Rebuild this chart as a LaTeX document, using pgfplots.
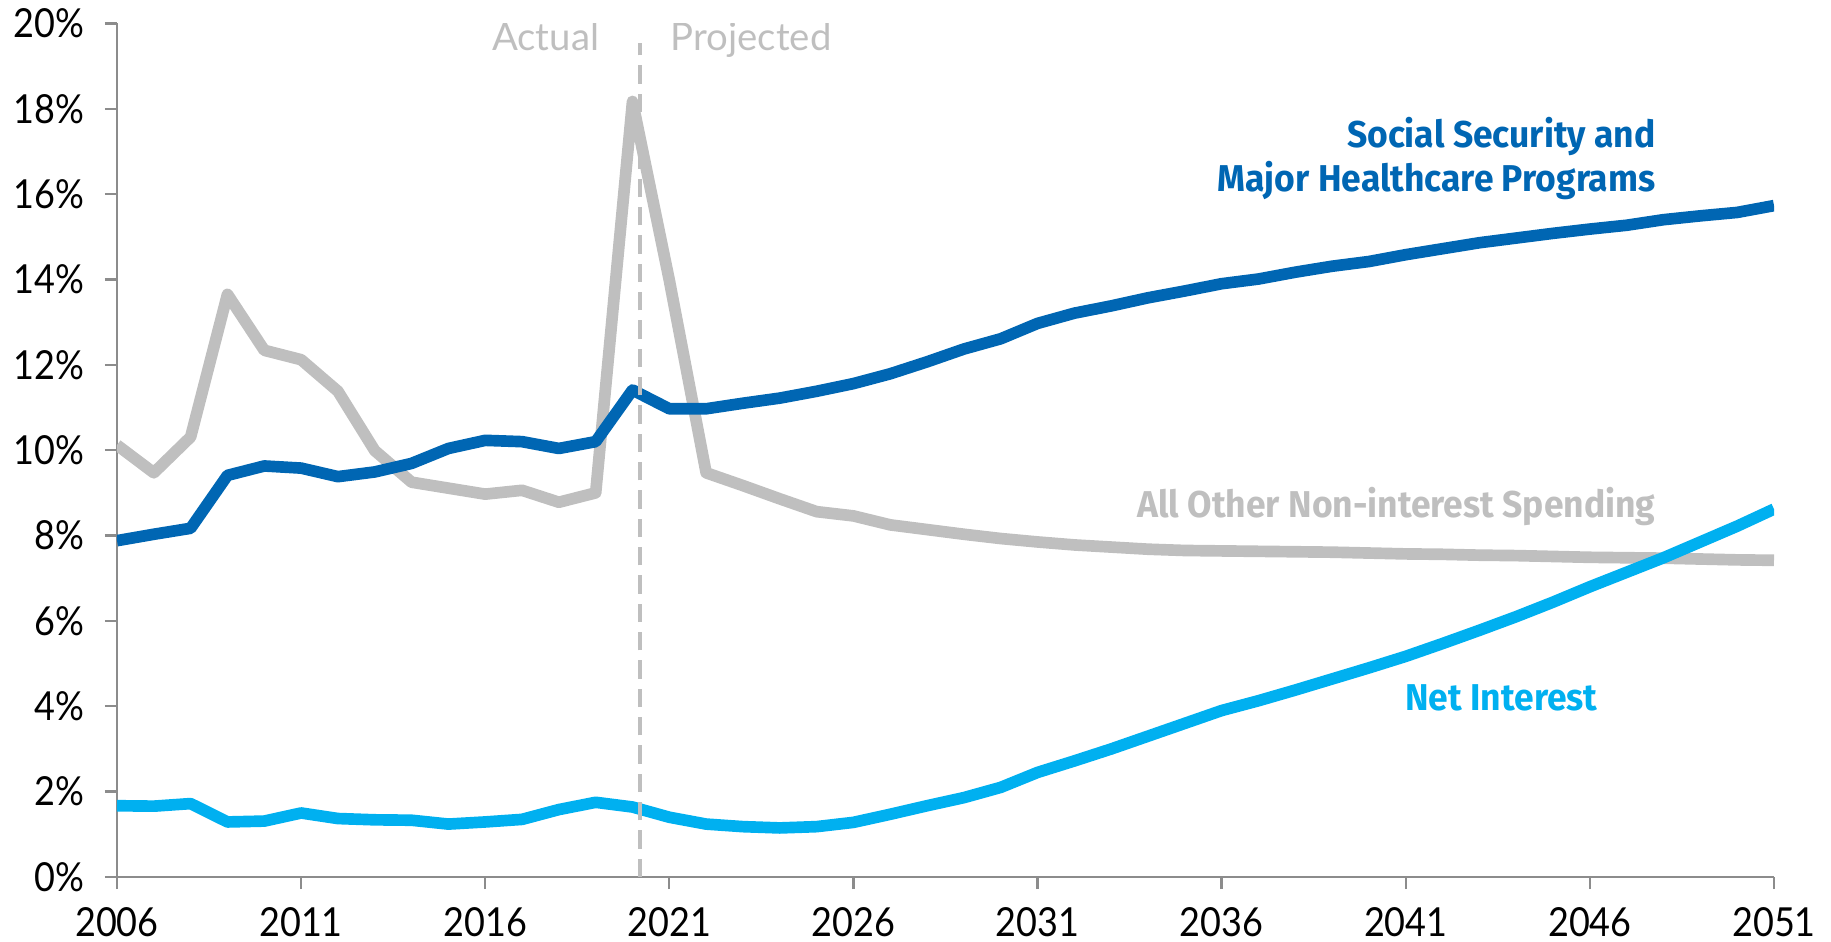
\documentclass[border=0pt]{standalone}
\usepackage{pgfplots}
\pgfplotsset{compat=1.18}
\usepackage{pgfplotstable}
\usepackage{fontspec}
\setmainfont{Lato}
\newfontfamily\labelfont[FakeStretch=0.95]{Fira Sans}
\newfontfamily\tickfont[FakeStretch=0.9]{Lato}
\definecolor{ssblue}{HTML}{0066B3}
\definecolor{niblue}{HTML}{00B0F0}
\definecolor{othgray}{HTML}{BFBFBF}
\definecolor{axisgray}{HTML}{8C8C8C}

\pgfplotstableread{
year ss other ni
2006 7.88 10.12 1.67
2007 8.03 9.47 1.66
2008 8.17 10.31 1.72
2009 9.41 13.65 1.29
2010 9.63 12.34 1.31
2011 9.58 12.12 1.50
2012 9.38 11.38 1.37
2013 9.49 9.99 1.34
2014 9.69 9.25 1.33
2015 10.04 9.11 1.24
2016 10.23 8.97 1.29
2017 10.20 9.06 1.35
2018 10.04 8.78 1.58
2019 10.20 9.00 1.75
2020 11.41 18.17 1.64
2021 10.97 13.98 1.40
2022 10.97 9.47 1.24
2023 11.10 9.17 1.18
2024 11.22 8.86 1.15
2025 11.38 8.56 1.18
2026 11.56 8.46 1.28
2027 11.79 8.25 1.47
2028 12.07 8.14 1.67
2029 12.37 8.03 1.86
2030 12.61 7.93 2.10
2031 12.97 7.85 2.45
2032 13.21 7.78 2.72
2033 13.38 7.73 3.00
2034 13.57 7.68 3.30
2035 13.73 7.65 3.60
2036 13.90 7.64 3.90
2037 14.01 7.63 4.13
2038 14.17 7.62 4.38
2039 14.31 7.61 4.64
2040 14.42 7.59 4.90
2041 14.58 7.57 5.17
2042 14.72 7.56 5.47
2043 14.86 7.54 5.78
2044 14.97 7.53 6.10
2045 15.08 7.51 6.44
2046 15.18 7.49 6.80
2047 15.27 7.48 7.14
2048 15.40 7.47 7.48
2049 15.49 7.45 7.85
2050 15.57 7.43 8.22
2051 15.73 7.42 8.62
}\datatable

\begin{document}
\begin{tikzpicture}
\begin{axis}[
  at={(0,0)}, anchor=south west,
  scale only axis,
  width=497.1pt, height=256.1pt,
  xmin=2006, xmax=2051, ymin=0, ymax=20,
  xtick={2006,2011,...,2051},
  ytick={0,2,...,20},
  axis x line=bottom, axis y line=left,
  axis line style={draw=axisgray, line width=0.7pt, -},
  tick style={draw=axisgray, line width=0.7pt},
  tick align=outside,
  major tick length=3.6pt,
  /pgf/number format/assume math mode=true,
  x tick label style={/pgf/number format/1000 sep={}, font=\tickfont\fontsize{12}{13}\selectfont, yshift=-2pt},
  y tick label style={font=\tickfont\fontsize{12}{13}\selectfont, xshift=-2.7pt},
  yticklabel={\pgfmathprintnumber[assume math mode=true]{\tick}\%},
  line join=round,
]
\addplot[draw=othgray, line width=3.5pt] table[x=year, y=other] {\datatable};
\addplot[draw=ssblue, line width=3.5pt] table[x=year, y=ss] {\datatable};
\addplot[draw=niblue, line width=3.5pt] table[x=year, y=ni] {\datatable};
\draw[othgray, line width=1pt, dash pattern=on 5.5pt off 3pt] (axis cs:2020.2,0) -- (axis cs:2020.2,19.55);
\node[anchor=base, inner sep=0pt, text=othgray, font=\fontsize{11.5}{12}\selectfont] at (axis cs:2017.64,19.37) {Actual};
\node[anchor=base, inner sep=0pt, text=othgray, font=\fontsize{11.5}{12}\selectfont] at (axis cs:2023.22,19.37) {Projected};
\node[anchor=east, align=right, text=ssblue, font=\labelfont\bfseries\fontsize{11.2}{13.2}\selectfont, inner sep=0pt] at (axis cs:2047.8,16.83) {Social Security and\\Major Healthcare Programs};
\node[anchor=east, text=othgray, font=\labelfont\bfseries\fontsize{11.2}{13}\selectfont, inner sep=0pt] at (axis cs:2047.8,8.67) {All Other Non-interest Spending};
\node[text=niblue, font=\labelfont\bfseries\fontsize{11.2}{13}\selectfont, inner sep=0pt] at (axis cs:2043.6,4.19) {Net Interest};
\end{axis}
\pgfresetboundingbox
\path[use as bounding box] (-35.1pt,-19.2pt) rectangle (514.2pt,263.1pt);
\end{tikzpicture}
\end{document}
